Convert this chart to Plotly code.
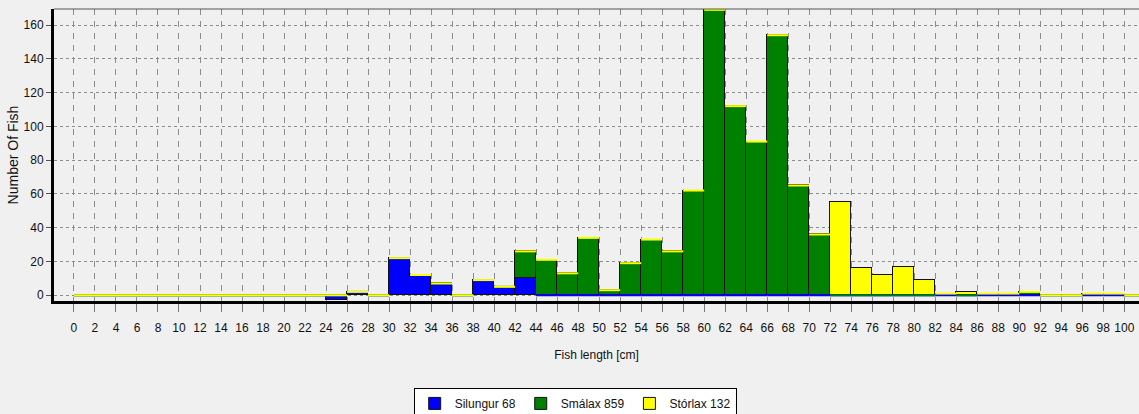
import plotly.graph_objects as go

# fish length bins (start of each 2 cm class)
bins = list(range(0, 101, 2))

silungur = [
    0, 0, 0, 0, 0, 0, 0, 0, 0, 0,      # 0-18
    0, 0, -3, 2, 0, 22, 12, 7, 0, 9,   # 20-38
    5, 10, 0, 0, 0, 0, 0, 0, 0, 0,     # 40-58
    0, 0, 0, 0, 0, 0, 0, 0, 0, 0,      # 60-78
    0, 0, 0, 0, 0, 0, 0, 0, 0, 0,      # 80-98
    0,                                 # 100
]
smalax = [
    0, 0, 0, 0, 0, 0, 0, 0, 0, 0,
    0, 0, 0, 0, 0, 0, 0, 0, 0, 0,
    0, 16, 21, 13, 34, 3, 19, 33, 26, 62,
    169, 112, 91, 154, 65, 36, 0, 0, 0, 0,
    0, 1, 0, 1, 1, 2, 0, 0, 1, 1,
    0,
]
storlax = [
    0, 0, 0, 0, 0, 0, 0, 0, 0, 0,
    0, 0, 0, 0, 0, 0, 0, 0, 0, 0,
    0, 0, 0, 0, 0, 0, 0, 0, 0, 0,
    0, 0, 0, 0, 0, 0, 55, 16, 12, 17,
    9, 0, 2, 0, 0, 0, 0, 0, 0, 0,
    0,
]

series = [
    ("Silungur 68", silungur, "#0000ff"),
    ("Smálax 859", smalax, "#008000"),
    ("Stórlax 132", storlax, "#ffff00"),
]

FONT = "Liberation Sans, Arial, sans-serif"
TICK_FONT = dict(family=FONT, size=12, color="#111")

fig = go.Figure()
for name, vals, color in series:
    fig.add_trace(go.Bar(
        x=bins, y=vals, name=name, width=2, offset=0,
        marker=dict(color=color, line=dict(color="#111", width=1)),
    ))

# empty classes are drawn as a thin line in the series colour at the stack level
stack = [0] * len(bins)
for name, vals, color in series:
    lx, ly = [], []
    for i, b in enumerate(bins):
        if vals[i] == 0:
            lx += [b, b + 2, None]
            ly += [stack[i], stack[i], None]
    fig.add_trace(go.Scatter(x=lx, y=ly, mode="lines", line=dict(color=color, width=2),
                             showlegend=False, hoverinfo="skip"))
    stack = [s + max(v, 0) for s, v in zip(stack, vals)]

fig.update_layout(
    barmode="stack", bargap=0,
    width=1139, height=414,
    margin=dict(l=54, r=0, t=9, b=113),
    paper_bgcolor="#f0f0f0", plot_bgcolor="#f0f0f0",
    showlegend=True,
    legend=dict(
        orientation="h", xref="container", x=0.505, xanchor="center",
        yref="container", y=0.063, yanchor="top",
        bgcolor="white", bordercolor="black", borderwidth=1,
        font=dict(family=FONT, size=12, color="#111"),
        itemwidth=30, traceorder="normal", tracegroupgap=0,
    ),
    shapes=[dict(type="line", xref="paper", yref="paper", x0=0, x1=1, y0=1, y1=1,
                 line=dict(color="#555", width=1))],
)
fig.update_xaxes(
    range=[-1.9, 101.4], tickmode="array", tickvals=bins, ticktext=[str(b) for b in bins],
    tickangle=0, automargin=False,
    showline=True, linecolor="black", linewidth=3,
    ticks="outside", ticklen=8, tickcolor="#777", tickfont=TICK_FONT,
    ticklabelstandoff=6,
    showgrid=True, gridcolor="#8c8c8c", gridwidth=1, griddash="6px,6px",
    zeroline=False,
    title=dict(text="Fish length [cm]", standoff=17,
               font=dict(family=FONT, size=12, color="#111")),
)
fig.update_yaxes(
    range=[-3.4, 169.5], tickmode="linear", tick0=0, dtick=20, automargin=False,
    showline=True, linecolor="black", linewidth=3,
    ticks="outside", ticklen=5, tickcolor="#555", tickfont=TICK_FONT,
    showgrid=True, gridcolor="#8c8c8c", gridwidth=1, griddash="3px,3px",
    zeroline=False,
    title=dict(text="Number Of Fish", standoff=2,
               font=dict(family=FONT, size=14, color="#111")),
)

fig.write_html(
    "out.html",
    config={"displayModeBar": False},
    post_script="document.body.style.margin='0';document.body.style.overflow='hidden';",
)
